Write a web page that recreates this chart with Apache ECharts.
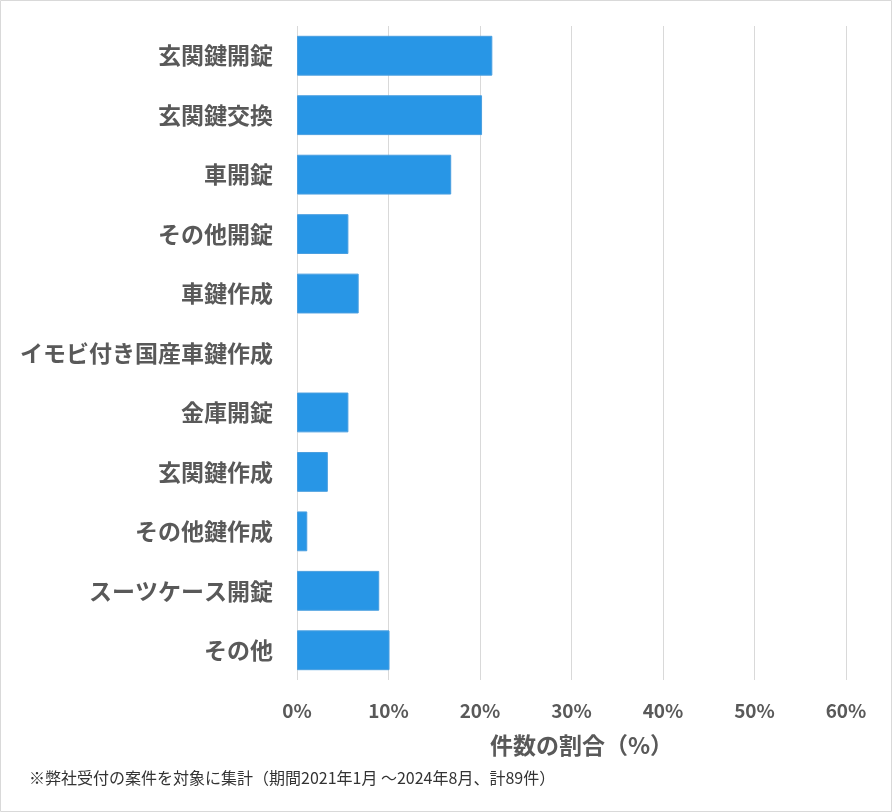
<!DOCTYPE html>
<html><head><meta charset="utf-8">
<script src="https://cdn.jsdelivr.net/npm/echarts@6/dist/echarts.min.js"></script>
<style>html,body{margin:0;padding:0;background:#fff}#c{width:892px;height:812px}</style>
</head><body><div id="c"></div>
<script>
const categories = ["玄関鍵開錠","玄関鍵交換","車開錠","その他開錠","車鍵作成","イモビ付き国産車鍵作成","金庫開錠","玄関鍵作成","その他鍵作成","スーツケース開錠","その他"];
const counts = [19,18,15,5,6,0,5,3,1,8,9];
const total = 89;
const percentValues = counts.map(c => c / total * 100);
const xTicks = [0,10,20,30,40,50,60];
const axisTitle = "件数の割合（%）";
const footnote = "※弊社受付の案件を対象に集計（期間2021年1月 ～2024年8月、計89件）";

const font = '"Noto Sans CJK JP", "Noto Sans", sans-serif';
const chart = echarts.init(document.getElementById('c'), null, {renderer:'canvas'});
chart.setOption({
  animation:false,
  textStyle:{fontFamily:font},
  graphic:[
    {type:'rect', shape:{x:0.5,y:0.5,width:891,height:811}, style:{fill:'none', stroke:'#d9d9d9', lineWidth:1}},
    {type:'text', left:29, top:770, style:{text:footnote, fill:'#333', font:'16px ' + font}}
  ],
  grid:{left:297, right:46, top:26, bottom:132, containLabel:false},
  xAxis:{
    type:'value', min:xTicks[0], max:xTicks[xTicks.length-1], interval:10,
    axisLabel:{formatter:v=>v+'%', color:'#595959', fontSize:19, fontWeight:'bold', margin:21, fontFamily:font},
    splitLine:{lineStyle:{color:'#d9d9d9', width:1}},
    axisLine:{show:false}, axisTick:{show:false},
    name:axisTitle, nameLocation:'middle', nameGap:54,
    nameTextStyle:{color:'#595959', fontSize:23, fontWeight:'bold', fontFamily:font, padding:[0,0,0,20]}
  },
  yAxis:{
    type:'category', data:categories, inverse:true,
    axisLine:{show:false}, axisTick:{show:false},
    axisLabel:{color:'#595959', fontSize:23, fontWeight:'bold', margin:24, fontFamily:font}
  },
  series:[{
    type:'bar', barCategoryGap:'33%',
    data:percentValues.map(v => ({value:v, itemStyle:{borderWidth: v > 0 ? 1 : 0}})),
    itemStyle:{color:'#2896e6', borderColor:'#4a9fe0', borderWidth:1}
  }]
});
</script></body></html>
